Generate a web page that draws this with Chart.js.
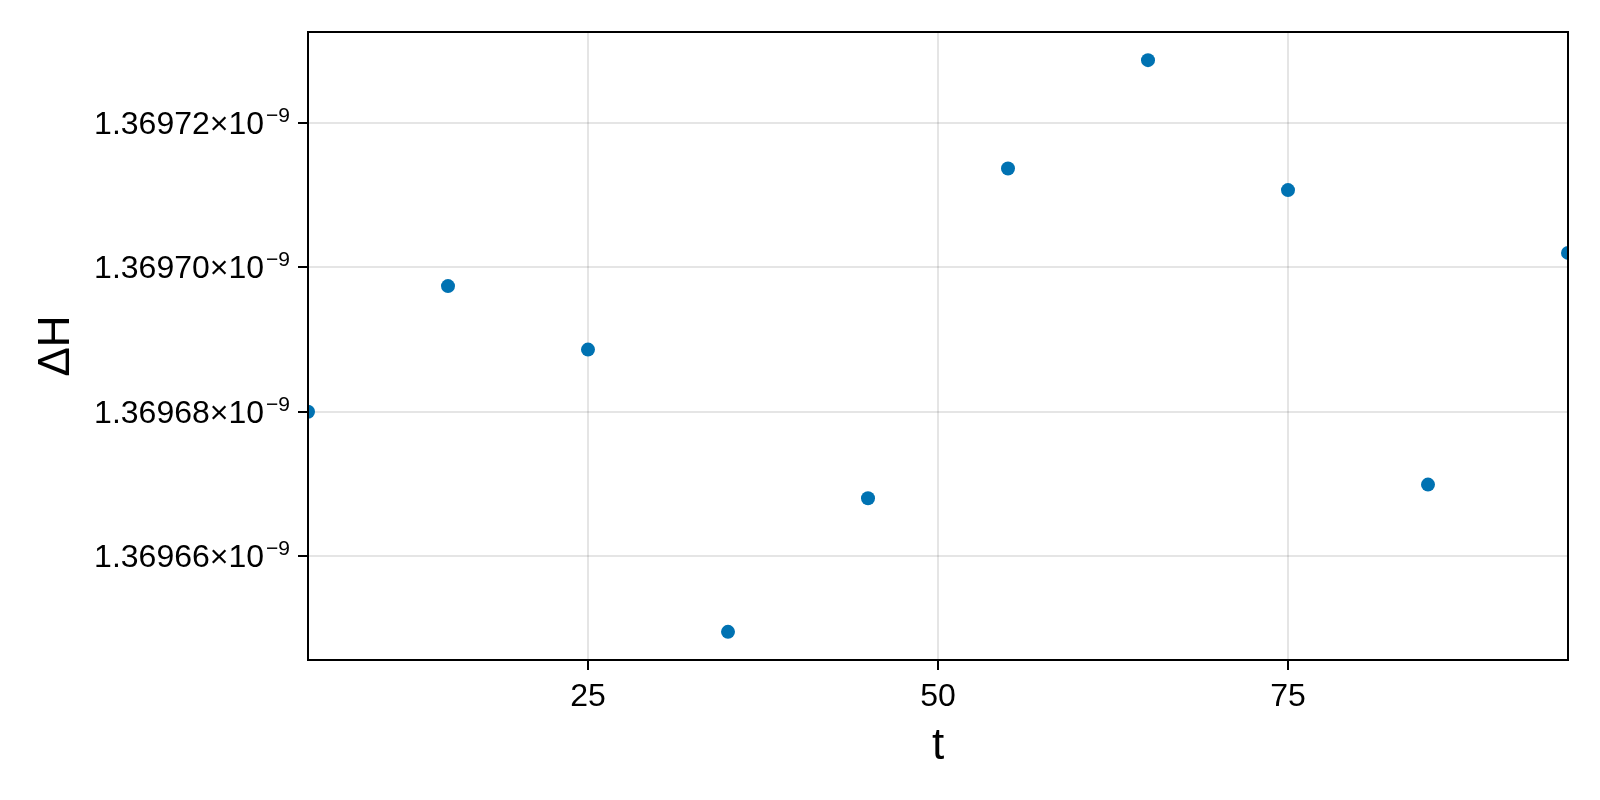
<!DOCTYPE html>
<html>
<head>
<meta charset="utf-8">
<script src="https://cdn.jsdelivr.net/npm/chart.js@4"></script>
<style>
  html, body { margin: 0; padding: 0; background: #fff; }
  #wrap { width: 1600px; height: 800px; }
</style>
</head>
<body>
<div id="wrap"><canvas id="chart" width="1600" height="800"></canvas></div>
<script>
const tValues = [5, 15, 25, 35, 45, 55, 65, 75, 85, 95];
const dHValues = [
  1.3696800e-9, 1.3696974e-9, 1.3696886e-9, 1.3696495e-9, 1.3696680e-9,
  1.3697137e-9, 1.3697287e-9, 1.3697107e-9, 1.3696699e-9, 1.3697020e-9
];
const xTicks = [25, 50, 75];
const yTicks = [1.36966e-9, 1.36968e-9, 1.36970e-9, 1.36972e-9];
const xRange = [5, 95];
const yRange = [1.3696456e-9, 1.3697326e-9];

const FONT = "'Liberation Sans', Arial, sans-serif";

// frame round the plot area
const framePlugin = {
  id: 'frame',
  afterDatasetsDraw(chart) {
    const { ctx, chartArea: a } = chart;
    ctx.save();
    ctx.strokeStyle = '#000';
    ctx.lineWidth = 2;
    ctx.strokeRect(a.left, a.top, a.right - a.left, a.bottom - a.top);
    ctx.restore();
  }
};

// y tick labels with a real superscript exponent
const yLabelPlugin = {
  id: 'yLabels',
  afterDraw(chart) {
    const { ctx } = chart;
    const s = chart.scales.y;
    const xr = s.right - 10 - 8;
    ctx.save();
    ctx.fillStyle = '#000';
    ctx.textAlign = 'right';
    ctx.textBaseline = 'alphabetic';
    s.ticks.forEach(t => {
      const y = s.getPixelForValue(t.value);
      ctx.font = `21px ${FONT}`;
      const sup = '−9';
      const w = ctx.measureText(sup).width;
      ctx.fillText(sup, xr, y - 1);
      ctx.font = `32px ${FONT}`;
      ctx.fillText((t.value * 1e9).toFixed(5) + '×10', xr - w - 2, y + 11);
    });
    ctx.restore();
  }
};

const ctx = document.getElementById('chart').getContext('2d');
new Chart(ctx, {
  type: 'scatter',
  data: {
    datasets: [{
      data: tValues.map((t, i) => ({ x: t, y: dHValues[i] })),
      backgroundColor: '#0072b2',
      borderWidth: 0,
      pointRadius: 7,
      clip: 0
    }]
  },
  options: {
    responsive: false,
    animation: false,
    devicePixelRatio: 1,
    layout: { padding: { top: 32, right: 32, left: 0, bottom: 0 } },
    plugins: { legend: { display: false }, tooltip: { enabled: false } },
    scales: {
      x: {
        type: 'linear',
        min: xRange[0],
        max: xRange[1],
        afterBuildTicks: s => { s.ticks = xTicks.map(v => ({ value: v })); },
        afterFit: s => { s.height = 140; },
        grid: { color: 'rgba(0,0,0,0.1)', lineWidth: 2, tickLength: 10, tickColor: '#000', tickWidth: 2 },
        border: { display: false },
        ticks: { color: '#000', font: { family: FONT, size: 32 }, padding: 8, maxRotation: 0 },
        title: { display: true, text: 't', color: '#000', font: { family: FONT, size: 44 }, padding: { top: 0, bottom: 27 } }
      },
      y: {
        type: 'linear',
        min: yRange[0],
        max: yRange[1],
        afterBuildTicks: s => { s.ticks = yTicks.map(v => ({ value: v })); },
        afterFit: s => { s.width = 308; },
        grid: { color: 'rgba(0,0,0,0.1)', lineWidth: 2, tickLength: 10, tickColor: '#000', tickWidth: 2 },
        border: { display: false },
        ticks: { display: false },
        title: { display: true, text: 'ΔH', color: '#000', font: { family: FONT, size: 44 }, padding: { top: 30, bottom: 0 } }
      }
    }
  },
  plugins: [framePlugin, yLabelPlugin]
});
</script>
</body>
</html>
